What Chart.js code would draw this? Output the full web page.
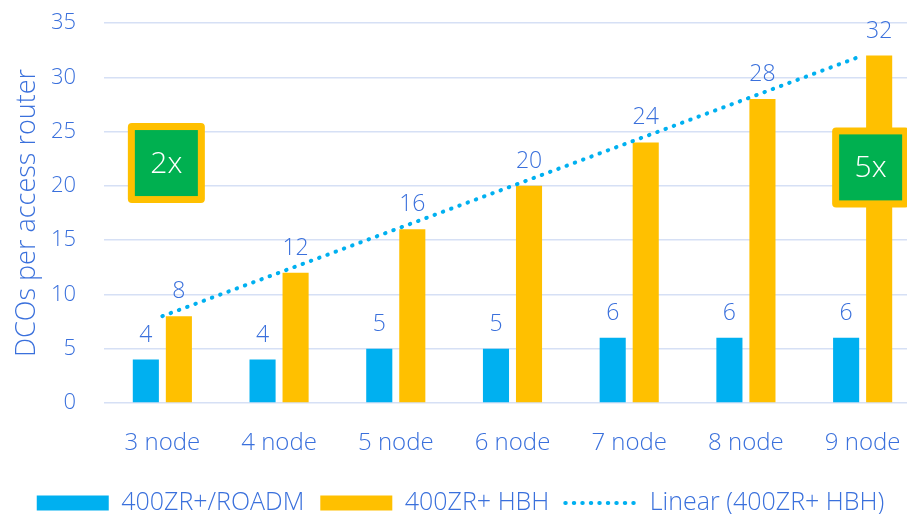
<!DOCTYPE html>
<html>
<head>
<meta charset="utf-8">
<title>DCOs per access router</title>
<script src="https://cdn.jsdelivr.net/npm/chart.js@4"></script>
<style>
  html, body { margin: 0; padding: 0; background: #ffffff; overflow: hidden; }
  #wrap { position: relative; width: 921px; height: 514px; }
</style>
</head>
<body>
<div id="wrap"><canvas id="chart"></canvas></div>
<script>
// Ring sizes on the x axis
const categories = ['3 node', '4 node', '5 node', '6 node', '7 node', '8 node', '9 node'];
// DCOs needed per access router for each design
const roadmValues = [4, 4, 5, 5, 6, 6, 6];
const hbhValues = [8, 12, 16, 20, 24, 28, 32];
// Linear trend fitted to the hop-by-hop series
const hbhTrend = [8, 12, 16, 20, 24, 28, 32];
// Y axis ticks
const yTicks = [0, 5, 10, 15, 20, 25, 30, 35];
// Call-out boxes: text, category index, value they sit at
const calloutText = ['2x', '5x'];
const calloutCategory = [0, 6];
const calloutValue = [22.1, 21.7];

const FONT = '"Segoe UI Light", "Open Sans", "Noto Sans", sans-serif';
const TEXT_BLUE = '#3a70dc';
const BLUE = '#00b0f0';
const YELLOW = '#ffc000';
const GREEN = '#00b050';

// Value labels above each bar
const barLabels = {
  id: 'barLabels',
  afterDatasetsDraw(chart) {
    const ctx = chart.ctx;
    ctx.save();
    ctx.font = '300 23px ' + FONT;
    ctx.fillStyle = TEXT_BLUE;
    ctx.textAlign = 'center';
    ctx.textBaseline = 'alphabetic';
    chart.data.datasets.forEach((ds, i) => {
      if (ds.type === 'line') return;
      const meta = chart.getDatasetMeta(i);
      meta.data.forEach((bar, j) => {
        ctx.fillText(String(ds.data[j]), bar.x, bar.y - 18);
      });
    });
    ctx.restore();
  }
};

// Green call-out boxes with a yellow frame
const callouts = {
  id: 'callouts',
  afterDatasetsDraw(chart, args, opts) {
    const ctx = chart.ctx;
    const xs = chart.scales.x, ys = chart.scales.y;
    ctx.save();
    calloutText.forEach((t, i) => {
      const cx = xs.getPixelForValue(calloutCategory[i]) + opts.dx[i];
      const cy = ys.getPixelForValue(calloutValue[i]);
      const w = opts.w, h = opts.h, b = opts.border;
      ctx.fillStyle = YELLOW;
      ctx.beginPath();
      ctx.roundRect(cx - w / 2, cy - h / 2, w, h, 4);
      ctx.fill();
      ctx.fillStyle = GREEN;
      ctx.fillRect(cx - w / 2 + b, cy - h / 2 + b, w - 2 * b, h - 2 * b);
      ctx.fillStyle = '#ffffff';
      ctx.font = '300 30px ' + FONT;
      ctx.textAlign = 'center';
      ctx.textBaseline = 'middle';
      ctx.fillText(t, cx, cy + 1);
    });
    ctx.restore();
  }
};

new Chart(document.getElementById('chart'), {
  type: 'bar',
  data: {
    labels: categories,
    datasets: [
      {
        label: '400ZR+/ROADM',
        data: roadmValues,
        backgroundColor: BLUE,
        borderWidth: 0,
        categoryPercentage: 0.566,
        barPercentage: 0.79,
        order: 1
      },
      {
        label: '400ZR+ HBH',
        data: hbhValues,
        backgroundColor: YELLOW,
        borderWidth: 0,
        categoryPercentage: 0.566,
        barPercentage: 0.79,
        order: 1
      },
      {
        type: 'line',
        label: 'Linear (400ZR+ HBH)',
        data: hbhTrend,
        borderColor: BLUE,
        backgroundColor: 'rgba(0,0,0,0)',
        borderWidth: 4,
        borderDash: [0.5, 8.3],
        borderCapStyle: 'round',
        pointRadius: 0,
        pointHoverRadius: 0,
        fill: false,
        tension: 0,
        order: 0
      }
    ]
  },
  options: {
    responsive: true,
    maintainAspectRatio: false,
    animation: false,
    events: [],
    layout: { padding: { top: 23, right: 0, bottom: -11.5, left: 0 } },
    scales: {
      x: {
        grid: { display: false, drawTicks: false },
        border: { display: false },
        ticks: { color: TEXT_BLUE, font: { family: FONT, size: 24, weight: '300' }, padding: 26, maxRotation: 0 },
        afterFit(scale) {
          scale.height = 71.5;
          scale.paddingLeft = 0;
          scale.paddingRight = 0;
        }
      },
      y: {
        min: 0,
        max: 35,
        afterBuildTicks(scale) { scale.ticks = yTicks.map(v => ({ value: v })); },
        grid: { color: '#d6e0f5', lineWidth: 1.5, drawTicks: false },
        border: { display: false },
        ticks: { color: TEXT_BLUE, font: { family: FONT, size: 22, weight: '300' }, padding: 28 },
        title: {
          display: true,
          text: 'DCOs per access router',
          color: TEXT_BLUE,
          font: { family: FONT, size: 27, weight: '300' },
          padding: { top: 11, bottom: 0 }
        },
        afterFit(scale) {
          scale.width = 104;
          scale.paddingTop = 0;
          scale.paddingBottom = 0;
        }
      }
    },
    plugins: {
      legend: {
        position: 'bottom',
        align: 'center',
        labels: {
          usePointStyle: true,
          pointStyleWidth: 72,
          boxWidth: 72,
          boxHeight: 15,
          padding: 16,
          color: TEXT_BLUE,
          font: { family: FONT, size: 25, weight: '300' },
          sort: (a, b) => a.datasetIndex - b.datasetIndex,
          generateLabels(chart) {
            const items = Chart.defaults.plugins.legend.labels.generateLabels(chart);
            items.forEach(it => {
              const ds = chart.data.datasets[it.datasetIndex];
              if (ds.type === 'line') {
                it.pointStyle = 'line';
                it.lineDash = [0.5, 8];
                it.lineCap = 'round';
                it.lineWidth = 4;
                it.strokeStyle = BLUE;
              } else {
                it.pointStyle = 'rect';
                it.lineWidth = 0;
              }
            });
            return items;
          }
        }
      },
      tooltip: { enabled: false },
      callouts: { w: 77, h: 80, border: 7, dx: [4, 8] }
    }
  },
  plugins: [barLabels, callouts]
});
</script>
</body>
</html>
